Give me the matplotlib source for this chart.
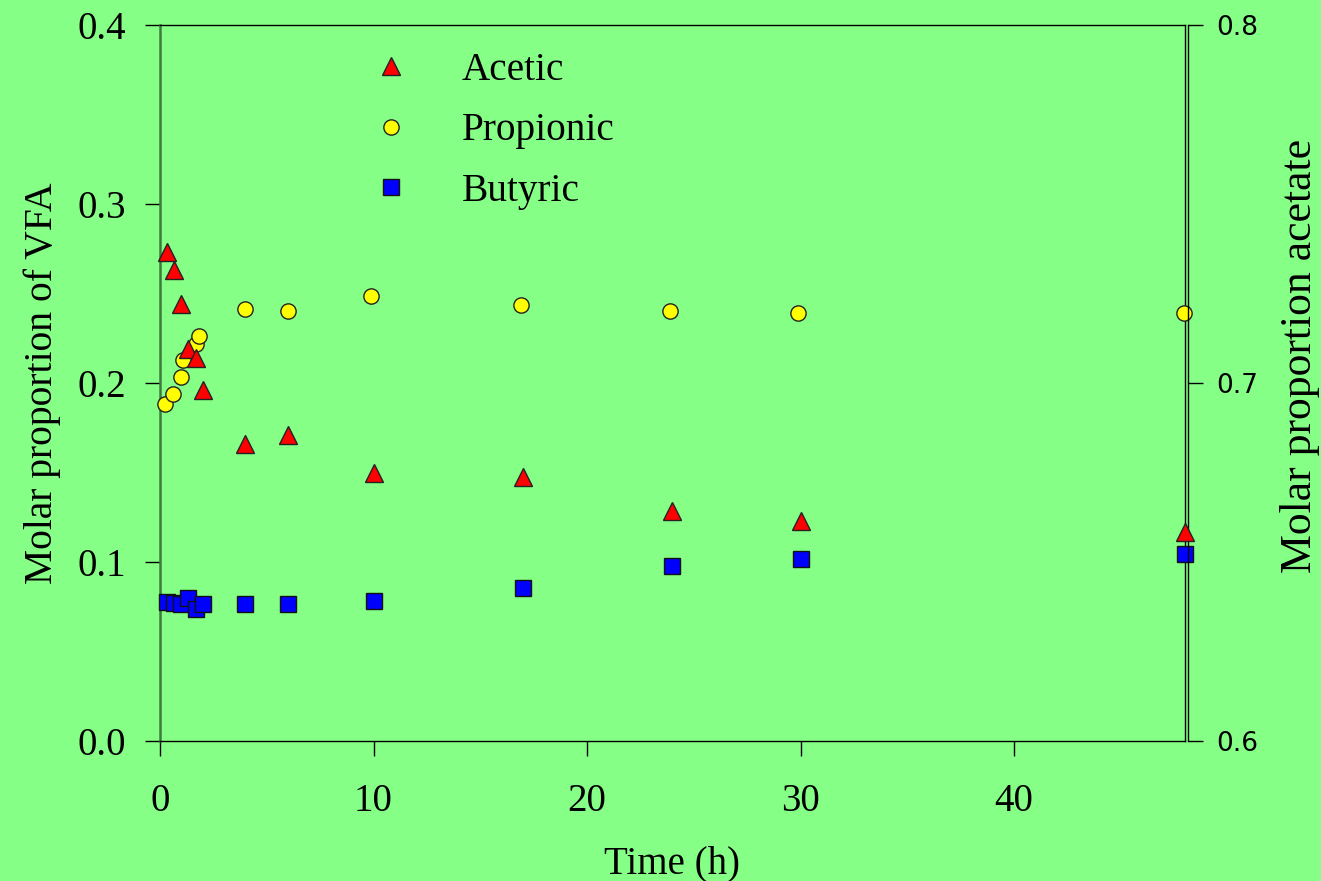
import matplotlib
matplotlib.use("Agg")
import matplotlib.pyplot as plt
from matplotlib.lines import Line2D

# ---- data ----
time_h = [0.33, 0.67, 1.0, 1.33, 1.67, 2.0, 4, 6, 10, 17, 24, 30, 48]
time_prop = [0.25, 0.6, 1.0, 1.1, 1.7, 1.85, 4, 6, 9.9, 16.9, 23.9, 29.9, 47.95]
acetic = [0.7365, 0.7315, 0.722, 0.7095, 0.707, 0.698, 0.683, 0.6855,
          0.675, 0.6738, 0.6642, 0.6614, 0.6585]          # right axis
propionic = [0.188, 0.194, 0.2035, 0.213, 0.222, 0.2265, 0.2413, 0.2402,
             0.2486, 0.2434, 0.2402, 0.2393, 0.239]       # left axis
butyric = [0.0778, 0.0769, 0.0764, 0.0797, 0.0735, 0.0767, 0.0768, 0.0764,
           0.0781, 0.0855, 0.0976, 0.1017, 0.1046]        # left axis
x_ticks = [0, 10, 20, 30, 40]
left_ticks = [0.0, 0.1, 0.2, 0.3, 0.4]
right_ticks = [0.6, 0.7, 0.8]
labels = ["Acetic", "Propionic", "Butyric"]

BG = "#86ff86"
SERIF = "Liberation Serif"
SANS = "Liberation Sans"

fig = plt.figure(figsize=(13.21, 8.81), dpi=100, facecolor=BG)
ax = fig.add_axes([0.1211, 0.1589, 0.897 - 0.1211, 0.9716 - 0.1589])
ax.set_facecolor(BG)
ax2 = ax.twinx()
ax2.patch.set_visible(False)

ax.plot(time_prop, propionic, linestyle="none", marker="o", ms=11,
        mfc="#ffff00", mec="#222222", mew=1.0, zorder=3, clip_on=False)
ax.plot(time_h, butyric, linestyle="none", marker="s", ms=11.5,
        mfc="#0000ff", mec="#111111", mew=1.0, zorder=3, clip_on=False)
ax2.plot(time_h, acetic, linestyle="none", marker="^", ms=13,
         mfc="#ff0000", mec="#222222", mew=1.0, zorder=4, clip_on=False)

ax.set_xlim(0, 48)
ax.set_ylim(0, 0.4)
ax2.set_ylim(0.6, 0.8)

ax.set_xticks(x_ticks)
ax.set_xticklabels([str(v) for v in x_ticks])
ax.set_yticks(left_ticks)
ax.set_yticklabels([f"{v:.1f}" for v in left_ticks])
ax2.set_yticks(right_ticks)
ax2.set_yticklabels([f"{v:.1f}" for v in right_ticks])

ax.tick_params(axis="x", direction="out", length=10.5, width=1, pad=20, labelsize=28)
ax.tick_params(axis="y", direction="out", length=10.5, width=1, pad=14, labelsize=28)
ax2.tick_params(axis="y", direction="out", length=10.5, width=1, pad=10, labelsize=19)
for lab in ax.get_xticklabels() + ax.get_yticklabels():
    lab.set_fontfamily(SERIF)
for lab in ax2.get_yticklabels():
    lab.set_fontfamily(SANS)

for s in ["top", "bottom", "right"]:
    ax.spines[s].set_color("black")
    ax.spines[s].set_linewidth(1)
ax.spines["left"].set_color("#3d7a3d")
ax.spines["left"].set_linewidth(1.8)
ax2.spines["right"].set_position(("outward", 2))
ax2.spines["right"].set_linewidth(1)
for s in ["top", "bottom", "left"]:
    ax2.spines[s].set_visible(False)

ax.set_xlabel("Time (h)", fontfamily=SERIF, fontsize=28, labelpad=18)
ax.set_ylabel("Molar proportion of VFA", fontfamily=SERIF, fontsize=28.5, labelpad=12)
ax2.set_ylabel("Molar proportion acetate", fontfamily=SERIF, fontsize=31.5, labelpad=16)
ax2.yaxis.label.set_y(0.538)

handles = [
    Line2D([], [], linestyle="none", marker="^", ms=13, mfc="#ff0000", mec="#222222"),
    Line2D([], [], linestyle="none", marker="o", ms=11, mfc="#ffff00", mec="#222222"),
    Line2D([], [], linestyle="none", marker="s", ms=11, mfc="#0000ff", mec="#111111"),
]
leg = ax2.legend(handles, labels, loc="upper left", bbox_to_anchor=(0.172, 1.012),
                 bbox_transform=ax2.transAxes, frameon=False,
                 prop={"family": SERIF, "size": 28.3}, handletextpad=1.3,
                 labelspacing=0.6, handlelength=1.0)

fig.savefig("out.png", dpi=100, facecolor=BG)
